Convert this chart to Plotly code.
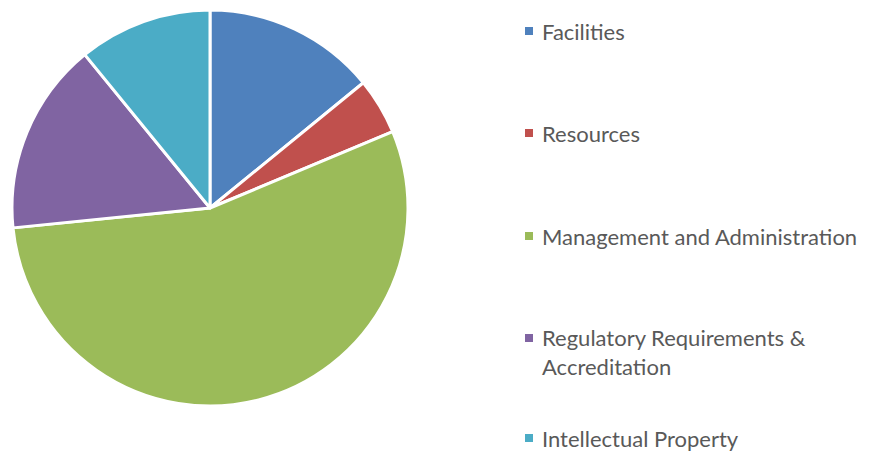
import plotly.graph_objects as go

categories = ["Facilities", "Resources", "Management and Administration",
              "Regulatory Requirements &<br>Accreditation", "Intellectual Property"]
values = [14.1, 4.6, 54.7, 15.7, 10.9]
colors = ["#4F81BD", "#C0504D", "#9BBB59", "#8064A2", "#4BACC6"]

OFF = 8  # page body margin offset
W, H = 871 - OFF, 451 - OFF
legend_y = [31, 133, 236, 352, 438]  # pixel centres of legend entries (window coords)
legend_sq_y = [31, 133, 236, 338, 438]


def px(x):
    return (x - OFF) / W


def py(y):
    return 1 - (y - OFF) / H


fig = go.Figure(go.Pie(
    labels=[c.replace("<br>", " ") for c in categories],
    values=values,
    sort=False,
    direction="clockwise",
    rotation=0,
    marker=dict(colors=colors, line=dict(color="white", width=3)),
    textinfo="none",
    hoverinfo="label+percent",
    domain=dict(x=[px(12), px(408)], y=[py(406), py(10)]),
    showlegend=False,
))

shapes = []
annotations = []
for cat, col, yc, ys in zip(categories, colors, legend_y, legend_sq_y):
    shapes.append(dict(type="rect", xref="paper", yref="paper",
                       x0=px(525), x1=px(533), y0=py(ys + 4), y1=py(ys - 4),
                       fillcolor=col, line=dict(width=0)))
    annotations.append(dict(xref="paper", yref="paper", x=px(540), y=py(yc),
                            xanchor="left", yanchor="middle", text=cat, showarrow=False,
                            align="left",
                            font=dict(family="Lato, sans-serif", size=22, color="#595959")))

fig.update_layout(
    width=W, height=H,
    margin=dict(l=0, r=0, t=0, b=0),
    paper_bgcolor="white", plot_bgcolor="white",
    shapes=shapes, annotations=annotations,
)
fig.write_html("out.html")
